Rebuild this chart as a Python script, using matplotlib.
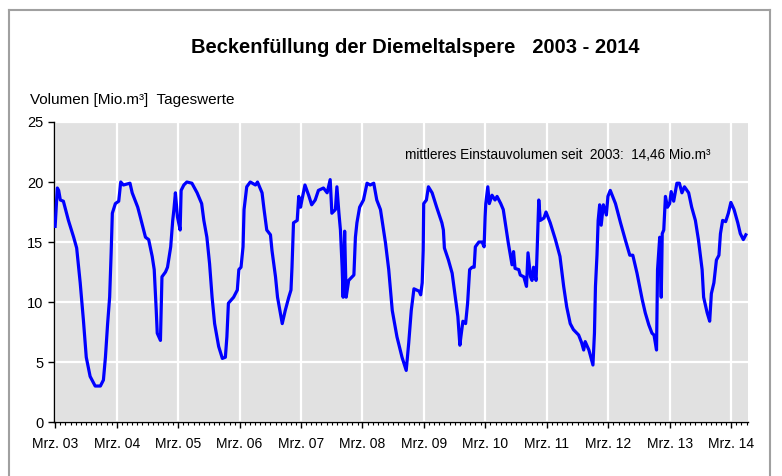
import matplotlib
matplotlib.use("Agg")
import matplotlib.pyplot as plt
import matplotlib.dates as mdates
import pandas as pd
from matplotlib.lines import Line2D

# Tageswerte, Volumen in Mio. m³
dates = [
    "2003-03-01", "2003-03-14", "2003-03-22", "2003-04-01", "2003-04-19", "2003-05-19",
    "2003-06-19", "2003-07-07", "2003-07-28", "2003-08-16", "2003-09-02", "2003-09-25",
    "2003-10-25", "2003-11-25", "2003-12-13", "2003-12-25", "2004-01-07", "2004-01-19",
    "2004-01-28", "2004-02-04", "2004-02-22", "2004-03-13", "2004-03-25", "2004-04-10",
    "2004-05-19", "2004-06-01", "2004-07-04", "2004-07-19", "2004-08-19", "2004-09-07",
    "2004-09-28", "2004-10-10", "2004-10-22", "2004-10-28", "2004-11-16", "2004-11-25",
    "2004-12-16", "2004-12-28", "2005-01-16", "2005-01-28", "2005-02-04", "2005-02-13",
    "2005-02-25", "2005-03-13", "2005-03-19", "2005-04-04", "2005-04-22", "2005-05-22",
    "2005-06-22", "2005-07-19", "2005-08-01", "2005-08-19", "2005-09-04", "2005-09-19",
    "2005-10-04", "2005-10-28", "2005-11-19", "2005-12-07", "2005-12-16", "2005-12-25",
    "2006-01-25", "2006-02-16", "2006-02-25", "2006-03-10", "2006-03-22", "2006-03-28",
    "2006-04-13", "2006-05-04", "2006-06-04", "2006-06-16", "2006-07-13", "2006-07-25",
    "2006-08-10", "2006-09-01", "2006-09-10", "2006-10-01", "2006-10-13", "2006-11-10",
    "2006-11-28", "2006-12-19", "2007-01-01", "2007-01-07", "2007-01-16", "2007-02-07",
    "2007-02-16", "2007-02-27", "2007-03-07", "2007-03-25", "2007-04-16", "2007-05-04",
    "2007-05-25", "2007-06-13", "2007-07-13", "2007-08-04", "2007-08-22", "2007-09-01",
    "2007-09-22", "2007-10-01", "2007-10-13", "2007-10-22", "2007-11-01", "2007-11-07",
    "2007-11-16", "2007-11-25", "2007-12-10", "2008-01-10", "2008-01-19", "2008-01-28",
    "2008-02-13", "2008-03-07", "2008-03-28", "2008-04-16", "2008-05-07", "2008-05-25",
    "2008-06-16", "2008-07-16", "2008-08-04", "2008-08-25", "2008-09-22", "2008-10-22",
    "2008-11-16", "2008-12-01", "2008-12-16", "2009-01-01", "2009-02-01", "2009-02-10",
    "2009-02-19", "2009-02-25", "2009-02-28", "2009-03-16", "2009-03-28", "2009-04-19",
    "2009-05-16", "2009-06-16", "2009-06-25", "2009-07-01", "2009-07-25", "2009-08-16",
    "2009-09-04", "2009-09-19", "2009-10-01", "2009-10-07", "2009-10-19", "2009-11-04",
    "2009-11-16", "2009-11-28", "2009-12-13", "2009-12-25", "2010-01-01", "2010-01-22",
    "2010-02-10", "2010-02-22", "2010-02-28", "2010-03-04", "2010-03-16", "2010-03-25",
    "2010-04-10", "2010-04-28", "2010-05-10", "2010-06-01", "2010-06-16", "2010-07-04",
    "2010-07-16", "2010-08-07", "2010-08-16", "2010-08-25", "2010-09-16", "2010-09-25",
    "2010-10-16", "2010-11-01", "2010-11-10", "2010-11-25", "2010-12-04", "2010-12-13",
    "2010-12-28", "2011-01-04", "2011-01-13", "2011-01-22", "2011-02-13", "2011-02-25",
    "2011-03-22", "2011-04-22", "2011-05-19", "2011-06-10", "2011-06-28", "2011-07-19",
    "2011-08-07", "2011-09-07", "2011-09-25", "2011-10-07", "2011-10-16", "2011-11-07",
    "2011-12-01", "2011-12-10", "2011-12-16", "2011-12-25", "2012-01-01", "2012-01-10",
    "2012-01-19", "2012-02-01", "2012-02-19", "2012-02-28", "2012-03-13", "2012-04-13",
    "2012-05-13", "2012-06-10", "2012-07-07", "2012-07-25", "2012-08-19", "2012-09-19",
    "2012-10-07", "2012-10-28", "2012-11-16", "2012-11-28", "2012-12-13", "2012-12-19",
    "2013-01-01", "2013-01-10", "2013-01-16", "2013-01-25", "2013-02-04", "2013-02-16",
    "2013-03-01", "2013-03-10", "2013-03-25", "2013-04-13", "2013-04-28", "2013-05-13",
    "2013-05-28", "2013-06-22", "2013-07-10", "2013-08-01", "2013-08-19", "2013-09-10",
    "2013-09-19", "2013-10-10", "2013-10-25", "2013-11-04", "2013-11-19", "2013-12-04",
    "2013-12-19", "2013-12-28", "2014-01-10", "2014-01-28", "2014-02-13", "2014-02-28",
    "2014-03-19", "2014-04-10", "2014-04-25", "2014-05-13", "2014-05-28",
]
volume = [
    16.3, 19.5, 19.3, 18.5, 18.4, 16.8,
    15.4, 14.5, 11.6, 8.5, 5.4, 3.8,
    3.0, 3.0, 3.5, 5.4, 8.2, 10.4,
    14.1, 17.4, 18.2, 18.4, 20.0, 19.75,
    19.9, 19.1, 17.9, 17.1, 15.4, 15.2,
    13.8, 12.7, 9.3, 7.4, 6.8, 12.1,
    12.5, 12.9, 14.6, 16.8, 17.7, 19.1,
    17.1, 16.0, 19.3, 19.75, 20.0, 19.9,
    19.1, 18.2, 16.8, 15.4, 13.2, 10.4,
    8.2, 6.3, 5.3, 5.4, 7.1, 9.9,
    10.4, 11.0, 12.7, 12.9, 14.6, 17.7,
    19.6, 20.0, 19.75, 20.0, 19.1, 17.7,
    16.0, 15.6, 14.3, 12.1, 10.4, 8.2,
    9.3, 10.4, 11.0, 12.9, 16.6, 16.8,
    18.8, 17.9, 18.5, 19.75, 18.9, 18.1,
    18.5, 19.3, 19.5, 19.1, 20.2, 17.4,
    17.7, 19.6, 17.4, 16.0, 12.9, 10.4,
    15.9, 10.4, 11.8, 12.25, 15.4, 16.6,
    17.9, 18.5, 19.9, 19.75, 19.9, 18.5,
    17.7, 14.9, 12.7, 9.3, 7.1, 5.4,
    4.3, 6.6, 9.3, 11.1, 10.9, 10.6,
    11.6, 14.3, 18.2, 18.5, 19.6, 19.1,
    17.9, 16.6, 16.0, 14.5, 13.5, 12.4,
    10.4, 8.8, 6.4, 7.1, 8.4, 8.2,
    9.9, 12.7, 12.9, 12.9, 14.6, 15.0,
    15.0, 14.6, 17.1, 18.2, 19.6, 18.2,
    18.9, 18.5, 18.8, 18.2, 17.7, 16.0,
    14.9, 13.1, 14.2, 12.8, 12.7, 12.25,
    12.1, 11.3, 14.1, 12.1, 11.8, 12.9,
    11.8, 14.6, 18.5, 16.8, 17.0, 17.5,
    16.6, 15.2, 13.8, 11.3, 9.6, 8.2,
    7.7, 7.25, 6.6, 6.0, 6.7, 6.0,
    4.75, 7.4, 11.3, 13.9, 16.8, 18.1,
    16.4, 18.1, 17.25, 18.8, 19.3, 18.2,
    16.6, 15.2, 13.9, 13.9, 12.4, 10.2,
    9.1, 8.1, 7.4, 7.25, 6.0, 12.7,
    15.4, 10.4, 15.7, 16.0, 18.8, 17.9,
    18.2, 19.2, 18.4, 19.9, 19.9, 19.1,
    19.6, 19.1, 17.9, 16.8, 15.2, 12.7,
    10.4, 9.1, 8.4, 10.7, 11.6, 13.5,
    13.9, 15.7, 16.8, 16.7, 17.4, 18.3,
    17.7, 16.6, 15.7, 15.2, 15.6,
]
y_ticks = [0, 5, 10, 15, 20, 25]

title = "Beckenfüllung der Diemeltalspere   2003 - 2014"
y_caption = "Volumen [Mio.m³]  Tageswerte"
mean_note = "mittleres Einstauvolumen seit  2003:  14,46 Mio.m³"

x = pd.to_datetime(dates)

plt.rcParams['font.family'] = ['Liberation Sans', 'DejaVu Sans']

fig = plt.figure(figsize=(7.82, 4.76), dpi=100)
ax = fig.add_axes([0.069, 0.1134, 0.888, 0.6303])
ax.set_facecolor('#e1e1e1')

ax.plot(x, volume, color='#0000ff', linewidth=2.3, zorder=3)

ax.set_ylim(0, 25)
ax.set_yticks(y_ticks)
ax.set_xlim(pd.Timestamp("2003-02-22"), pd.Timestamp("2014-06-12"))
ax.xaxis.set_major_locator(mdates.MonthLocator(bymonth=3))
ax.xaxis.set_minor_locator(mdates.MonthLocator())
ax.xaxis.set_major_formatter(mdates.DateFormatter("Mrz. %y"))

ax.grid(True, which='major', color='white', linewidth=1.6, zorder=1)
ax.set_axisbelow(True)
for side in ('top', 'right'):
    ax.spines[side].set_visible(False)
for side in ('left', 'bottom'):
    ax.spines[side].set_color('black')
    ax.spines[side].set_linewidth(1.0)

ax.tick_params(axis='both', which='major', direction='out', length=4, width=1,
               labelsize=10, colors='black')
ax.tick_params(axis='y', labelsize=10.5)
ax.tick_params(axis='x', which='minor', direction='out', length=2, width=0.8)
ax.tick_params(axis='x', pad=7)

ax.text(0.505, 0.89, mean_note, transform=ax.transAxes, fontsize=9.8,
        ha='left', va='center')

fig.text(0.531, 0.90, title, fontsize=14.5, fontweight='bold', ha='center', va='center')
fig.text(0.038, 0.79, y_caption, fontsize=11, ha='left', va='center')

# Rahmen um die Grafik (links, oben, rechts)
frame_kw = dict(color='#a0a0a0', linewidth=1.5, transform=fig.transFigure)
fig.add_artist(Line2D([0.012, 0.012], [0.0, 0.978], **frame_kw))
fig.add_artist(Line2D([0.012, 0.985], [0.978, 0.978], **frame_kw))
fig.add_artist(Line2D([0.985, 0.985], [0.0, 0.978], **frame_kw))

fig.savefig("out.png", dpi=100)
